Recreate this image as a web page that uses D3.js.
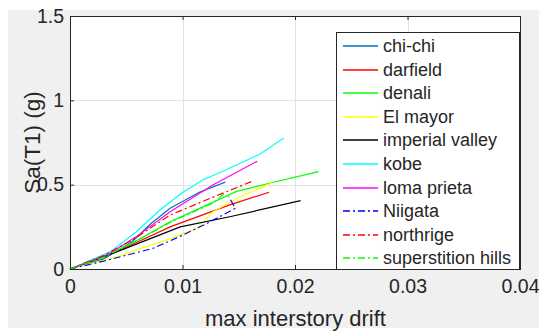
<!DOCTYPE html>
<html><head><meta charset="utf-8">
<script src="https://cdn.jsdelivr.net/npm/d3@7"></script>
<style>body{margin:0;background:#fff}svg{display:block}text{font-family:"Liberation Sans",Arial,sans-serif;fill:#262626}</style>
</head><body>
<script>
const names = ["chi-chi","darfield","denali","El mayor","imperial valley","kobe","loma prieta","Niigata","northrige","superstition hills"];
const colors = ["#0072BD","#ff0000","#00ff00","#ffff00","#000000","#00ffff","#ff00ff","#0000ff","#ff0000","#00ff00"];
const dashed = [false,false,false,false,false,false,false,true,true,true];
const chichi = [[0,0],[0.003,0.06],[0.0055,0.16],[0.0072,0.27],[0.0089,0.36],[0.0115,0.455],[0.0138,0.515]];
const darfield = [[0,0],[0.003,0.07],[0.006,0.16],[0.0089,0.25],[0.0142,0.38],[0.0177,0.455]];
const denali = [[0,0],[0.003,0.07],[0.006,0.17],[0.0089,0.28],[0.0122,0.38],[0.0148,0.46],[0.0178,0.51],[0.0221,0.577]];
const elmayor = [[0,0],[0.0044,0.077],[0.0059,0.113],[0.0085,0.17],[0.0113,0.241],[0.0127,0.34],[0.0152,0.43],[0.018,0.512]];
const imperial = [[0,0],[0.0042,0.103],[0.0098,0.25],[0.0142,0.31],[0.0205,0.405]];
const kobe = [[0,0],[0.0036,0.103],[0.0059,0.221],[0.008,0.35],[0.01,0.453],[0.0118,0.528],[0.0139,0.588],[0.0169,0.682],[0.019,0.777]];
const loma = [[0,0],[0.0035,0.09],[0.0059,0.192],[0.0089,0.34],[0.0127,0.4985],[0.01665,0.639]];
const niigata = [[0,0],[0.003,0.047],[0.0074,0.123],[0.01,0.2],[0.0122,0.271],[0.0147,0.36],[0.0141,0.43]];
const northrige = [[0,0],[0.003,0.08],[0.0055,0.17],[0.0089,0.32],[0.0125,0.42],[0.0161,0.518]];
const superstition = [[0,0],[0.003,0.07],[0.006,0.17],[0.009,0.28],[0.0127,0.39],[0.0138,0.453]];
const series = [chichi,darfield,denali,elmayor,imperial,kobe,loma,niigata,northrige,superstition];
const xTicks = [0,0.01,0.02,0.03,0.04];
const yTicks = [0,0.5,1,1.5];

const W=540,H=331;
const L=70,R=520,T=16,B=269;
const svg=d3.select("body").append("svg").attr("width",W).attr("height",H);
svg.append("rect").attr("x",8).attr("y",10).attr("width",531).attr("height",318).attr("fill","#f0f0f0");
const x=d3.scaleLinear().domain([0,0.04]).range([L,R]);
const y=d3.scaleLinear().domain([0,1.5]).range([B,T]);
svg.append("rect").attr("x",L).attr("y",T).attr("width",R-L).attr("height",B-T).attr("fill","#fff");
// grid
svg.append("g").selectAll("line").data(xTicks.slice(1,-1)).join("line")
  .attr("x1",d=>Math.round(x(d))+0.5).attr("x2",d=>Math.round(x(d))+0.5).attr("y1",T).attr("y2",B).attr("stroke","#e3e3e3").attr("stroke-width",1);
svg.append("g").selectAll("line").data(yTicks.slice(1,-1)).join("line")
  .attr("y1",d=>Math.round(y(d))+0.5).attr("y2",d=>Math.round(y(d))+0.5).attr("x1",L).attr("x2",R).attr("stroke","#e3e3e3").attr("stroke-width",1);
// lines
const line=d3.line().x(d=>x(d[0])).y(d=>y(d[1]));
const DASH="7,3,2,3";
series.forEach((s,i)=>{
  svg.append("path").attr("d",line(s)).attr("fill","none").attr("stroke",colors[i])
    .attr("stroke-width",1.2).attr("stroke-dasharray",dashed[i]?DASH:null);
});
// axes
const fmtX=d=>d===0?"0":d3.format(".2f")(d);
const fmtY=d=>d===0?"0":(d%1===0?d3.format("d")(d):d3.format(".1f")(d));
svg.append("g").attr("transform",`translate(0,${B})`).call(d3.axisBottom(x).tickValues(xTicks).tickFormat(fmtX).tickSizeInner(-4).tickSizeOuter(0).tickPadding(10));
svg.append("g").attr("transform",`translate(${L},0)`).call(d3.axisLeft(y).tickValues(yTicks).tickFormat(fmtY).tickSizeInner(-4).tickSizeOuter(0).tickPadding(6));
svg.append("g").attr("transform",`translate(0,${T})`).call(d3.axisTop(x).tickValues(xTicks).tickFormat("").tickSizeInner(-4).tickSizeOuter(0));
svg.append("g").attr("transform",`translate(${R},0)`).call(d3.axisRight(y).tickValues(yTicks).tickFormat("").tickSizeInner(-4).tickSizeOuter(0));
svg.selectAll(".domain").attr("stroke","#262626");
svg.selectAll(".tick line").attr("stroke","#262626");
svg.selectAll(".tick text").attr("font-size",19.5).style("font-family","'Liberation Sans',Arial,sans-serif").attr("fill","#262626");
svg.append("rect").attr("x",L+0.5).attr("y",T+0.5).attr("width",R-L).attr("height",B-T).attr("fill","none").attr("stroke","#262626");
// labels
svg.append("text").attr("x",(L+R)/2+0.5).attr("y",326).attr("text-anchor","middle").attr("font-size",22).text("max interstory drift");
svg.append("text").attr("transform",`translate(40,${(T+B)/2}) rotate(-90)`).attr("text-anchor","middle").attr("font-size",22.5).text("Sa(T1) (g)");
// legend
const lg=svg.append("g");
lg.append("rect").attr("x",336.5).attr("y",32.5).attr("width",183).attr("height",237).attr("fill","#fff").attr("stroke","#262626");
names.forEach((n,i)=>{
  const yy=Math.round(46+i*23.6);
  lg.append("line").attr("x1",343).attr("x2",378).attr("y1",yy).attr("y2",yy).attr("stroke",colors[i]).attr("stroke-width",1.3)
    .attr("stroke-dasharray",dashed[i]?DASH:null);
  lg.append("text").attr("x",383).attr("y",yy).attr("dy","0.35em").attr("font-size",18).text(n);
});
</script>
</body></html>
